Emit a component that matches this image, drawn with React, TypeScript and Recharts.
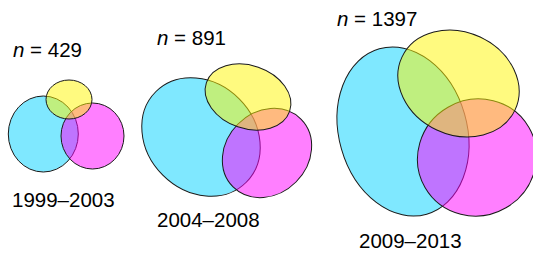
import React from "react";
import { ScatterChart, Scatter, XAxis, YAxis } from "recharts";

// Periods and sample sizes
const periods = ["1999–2003", "2004–2008", "2009–2013"];
const sampleSizes = [429, 891, 1397];

// Ellipse parameters per set (one entry per period): centre x, centre y, semi-axis a, semi-axis b, rotation (deg)
const cyanSets = [
  { x: 43.3, y: 134, a: 35, b: 38, rot: 0 },
  { x: 201, y: 137, a: 64, b: 54, rot: 45 },
  { x: 403, y: 131.5, a: 86, b: 64, rot: 74 },
];
const magentaSets = [
  { x: 92.5, y: 136, a: 31.5, b: 33, rot: 0 },
  { x: 267, y: 153, a: 48, b: 41, rot: -45 },
  { x: 477, y: 157.5, a: 60, b: 58, rot: -30 },
];
const yellowSets = [
  { x: 69, y: 99.5, a: 23, b: 19.5, rot: 0 },
  { x: 248, y: 97, a: 44, b: 31.5, rot: 19 },
  { x: 458.5, y: 83.5, a: 62.4, b: 51.3, rot: 25 },
];

// Label anchor positions (layout)
const nLabelPos = [
  { x: 13, y: 57 },
  { x: 157, y: 45 },
  { x: 337, y: 26 },
];
const periodLabelPos = [
  { x: 12, y: 207 },
  { x: 157, y: 227 },
  { x: 359, y: 248 },
];

const W = 533;
const H = 254;
const FONT = "'Liberation Sans', Arial, Helvetica, sans-serif";

const nLabels = nLabelPos.map((p, i) => ({ ...p, n: sampleSizes[i] }));
const periodLabels = periodLabelPos.map((p, i) => ({ ...p, label: periods[i] }));

const makeEllipse = (fill: string) => (props: any) => {
  const { cx, cy, payload } = props;
  if (cx == null || cy == null) return <g />;
  return (
    <ellipse
      cx={cx}
      cy={cy}
      rx={payload.a}
      ry={payload.b}
      transform={`rotate(${payload.rot} ${cx} ${cy})`}
      fill={fill}
      fillOpacity={0.5}
      stroke="#1a1a1a"
      strokeWidth={1}
    />
  );
};

const NShape = (props: any) => {
  const { cx, cy, payload } = props;
  return (
    <text x={cx} y={cy} fontFamily={FONT} fontSize={20.5} fill="#000">
      <tspan fontStyle="italic">n</tspan>
      <tspan>{` = ${payload.n}`}</tspan>
    </text>
  );
};

const PeriodShape = (props: any) => {
  const { cx, cy, payload } = props;
  return (
    <text x={cx} y={cy} fontFamily={FONT} fontSize={20.5} fill="#000">
      {payload.label}
    </text>
  );
};

export default function App() {
  return (
    <div style={{ position: "absolute", left: 0, top: 0, width: W, height: H, background: "#fff" }}>
      <ScatterChart width={W} height={H} margin={{ top: 0, right: 0, bottom: 0, left: 0 }}>
        <XAxis type="number" dataKey="x" domain={[0, W]} hide allowDataOverflow />
        <YAxis type="number" dataKey="y" domain={[0, H]} reversed hide allowDataOverflow />
        <Scatter data={cyanSets} shape={makeEllipse("#00D2FF")} isAnimationActive={false} />
        <Scatter data={magentaSets} shape={makeEllipse("#FF00FF")} isAnimationActive={false} />
        <Scatter data={yellowSets} shape={makeEllipse("#FFF500")} isAnimationActive={false} />
        <Scatter data={nLabels} shape={NShape} isAnimationActive={false} />
        <Scatter data={periodLabels} shape={PeriodShape} isAnimationActive={false} />
      </ScatterChart>
    </div>
  );
}
